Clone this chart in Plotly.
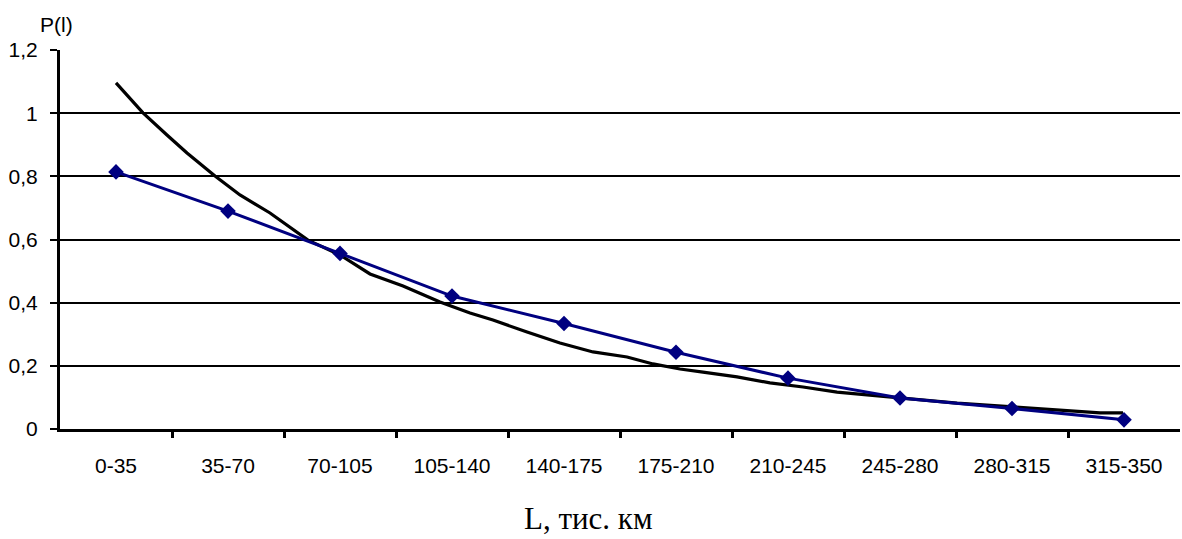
import plotly.graph_objects as go

# Distance intervals, thousand km
categories = ["0-35", "35-70", "70-105", "105-140", "140-175",
              "175-210", "210-245", "245-280", "280-315", "315-350"]

# Empirical probability per interval
p_empirical = [0.814, 0.690, 0.556, 0.421, 0.334, 0.243, 0.161, 0.098, 0.065, 0.029]

# Fitted curve: position along the interval axis (0 = first interval centre) and value
fit_pos = [0.0, 0.241, 0.455, 0.634, 0.884, 1.107, 1.375, 1.464, 1.714, 2.0,
           2.268, 2.563, 2.893, 3.161, 3.366, 3.670, 3.964, 4.259, 4.563, 4.795,
           5.036, 5.241, 5.545, 5.839, 6.134, 6.438, 6.732, 7.027, 7.509, 8.009,
           8.491, 8.786, 8.991]
fit_val = [1.096, 1.001, 0.931, 0.874, 0.801, 0.741, 0.684, 0.662, 0.598, 0.551,
           0.491, 0.453, 0.402, 0.367, 0.345, 0.307, 0.272, 0.244, 0.228, 0.206,
           0.190, 0.180, 0.165, 0.146, 0.133, 0.117, 0.108, 0.098, 0.082, 0.070,
           0.057, 0.051, 0.051]

y_ticks = [0, 0.2, 0.4, 0.6, 0.8, 1.0, 1.2]
y_tick_text = ["0", "0,2", "0,4", "0,6", "0,8", "1", "1,2"]

centres = list(range(len(categories)))
boundaries = [i + 0.5 for i in range(len(categories) - 1)]

fig = go.Figure()

fig.add_trace(go.Scatter(
    x=fit_pos, y=fit_val, mode="lines",
    line=dict(color="#000000", width=3.2),
    showlegend=False,
))

fig.add_trace(go.Scatter(
    x=centres, y=p_empirical, mode="lines+markers",
    line=dict(color="#000080", width=3),
    marker=dict(symbol="diamond", size=12, color="#000080"),
    showlegend=False,
))

fig.update_layout(
    width=1182, height=539,
    margin=dict(l=60, r=2, t=50, b=110),
    paper_bgcolor="white", plot_bgcolor="white",
    font=dict(family="Liberation Sans, Arial, sans-serif", size=21, color="black"),
    xaxis=dict(
        range=[-0.5, len(categories) - 0.5],
        tickmode="array", tickvals=centres, ticktext=categories,
        ticks="", showgrid=False, zeroline=False,
        showline=True, linecolor="black", linewidth=3,
        ticklabelstandoff=16,
        minor=dict(tickmode="array", tickvals=boundaries, ticks="outside",
                   ticklen=6, tickwidth=3, tickcolor="black", showgrid=False),
    ),
    yaxis=dict(
        range=[0, 1.2],
        tickmode="array", tickvals=y_ticks, ticktext=y_tick_text,
        ticks="outside", ticklen=7, tickwidth=2, tickcolor="black",
        showgrid=True, gridcolor="black", gridwidth=1.5,
        zeroline=False,
        showline=True, linecolor="black", linewidth=3,
        ticklabelstandoff=8,
    ),
    annotations=[
        dict(text="P(l)", xref="paper", yref="paper", x=15 / 1120, y=1.0,
             xanchor="right", yanchor="bottom", yshift=12, showarrow=False,
             font=dict(size=21)),
        dict(text="L, тис. км", xref="paper", yref="paper", x=(588 - 60) / 1120,
             y=0, xanchor="center", yanchor="top", yshift=-70, showarrow=False,
             font=dict(family="Liberation Serif, Times New Roman, serif", size=31)),
    ],
)

fig.write_html("out.html")
